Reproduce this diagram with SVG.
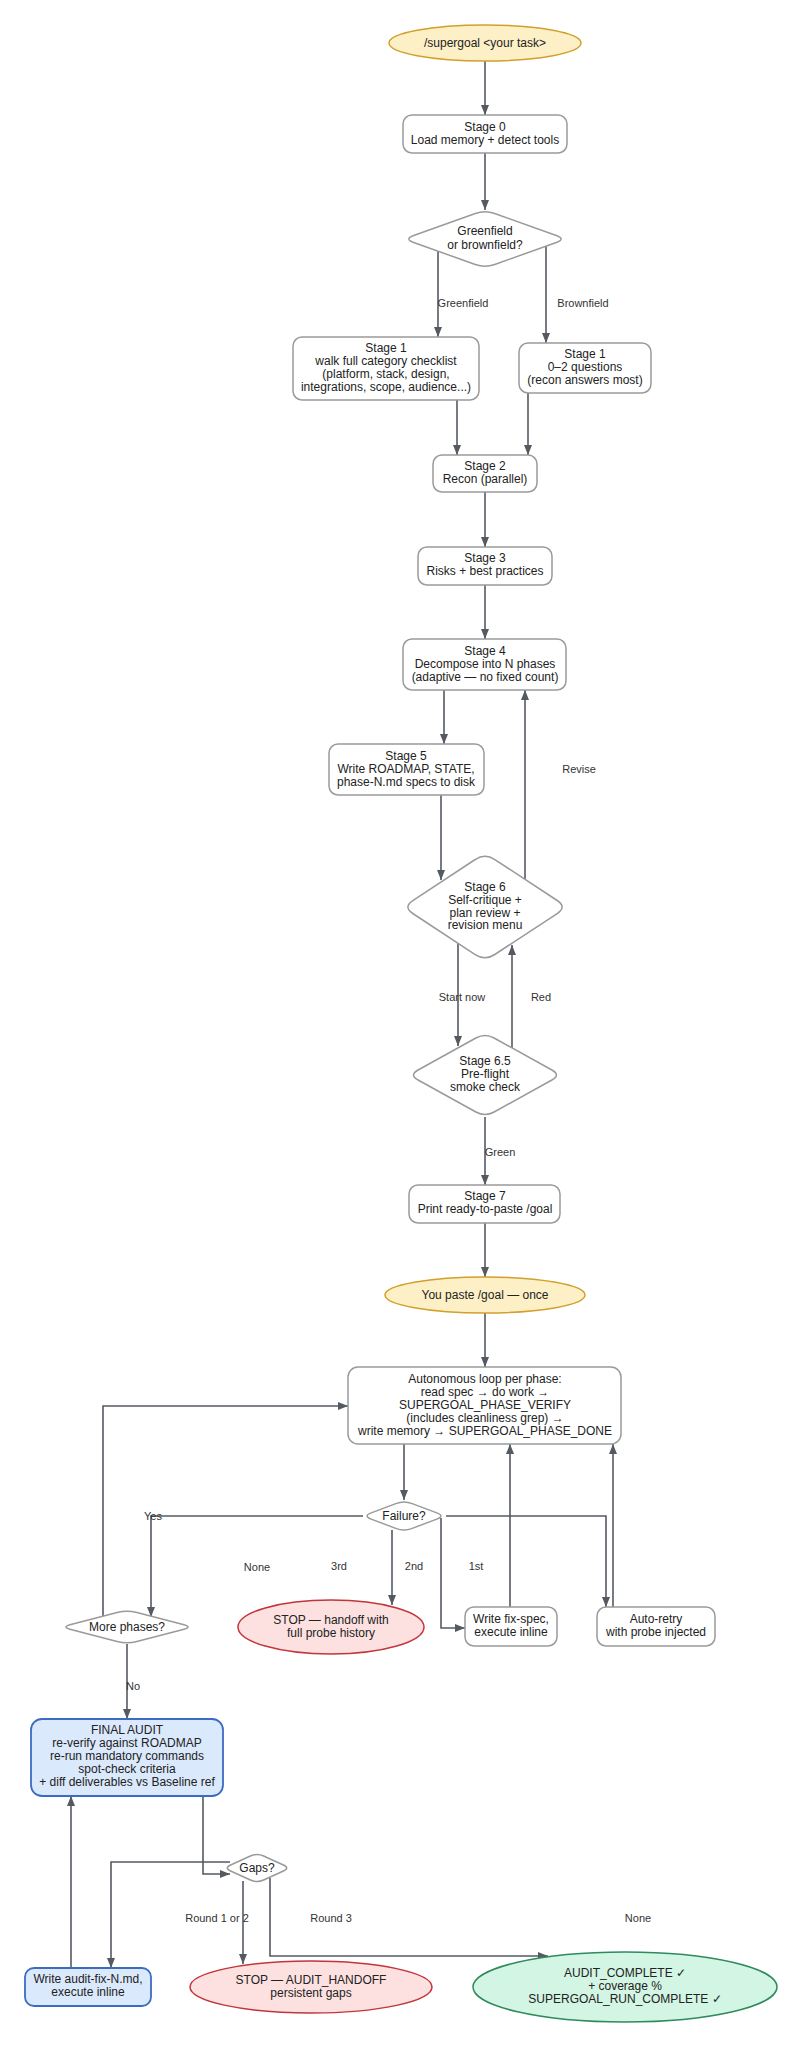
<svg xmlns="http://www.w3.org/2000/svg" width="795" height="2048" viewBox="0 0 795 2048">
<style>
.n{fill:#fff;stroke:#9a9a9a;stroke-width:1.5}
.y{fill:#fdf0c6;stroke:#d2a02a;stroke-width:1.5}
.r{fill:#fde1e1;stroke:#c2353a;stroke-width:1.5}
.g{fill:#d3f5e4;stroke:#2f8a5c;stroke-width:1.5}
.b{fill:#dbe9fc;stroke:#3c6cc2;stroke-width:1.8}
.d{stroke-linejoin:round}
text{font-family:"Liberation Sans",Arial,sans-serif;font-size:12px;fill:#222;text-anchor:middle;dominant-baseline:central}
.l{font-size:11px;fill:#333}
.e path{fill:none;stroke:#555a62;stroke-width:1.6;marker-end:url(#a)}
</style>
<defs>
<marker id="a" markerUnits="userSpaceOnUse" markerWidth="10" markerHeight="10" viewBox="0 0 10 10" refX="10" refY="5" orient="auto">
<path d="M0,1 L10,5 L0,9 z" fill="#555a62"/>
</marker>
</defs>
<rect width="795" height="2048" fill="#fff"/>
<g class="e" id="connectors">
<path d="M485,61 V115"/>
<path d="M485,153 V210"/>
<path d="M438,251 V337"/>
<path d="M546,246 V343"/>
<path d="M457,400 V455"/>
<path d="M528,393 V455"/>
<path d="M485,492 V547"/>
<path d="M485,585 V639"/>
<path d="M444,690 V744"/>
<path d="M441,795 V880"/>
<path d="M525,879 V690"/>
<path d="M458,943 V1046"/>
<path d="M512,1048 V945"/>
<path d="M485,1117 V1185"/>
<path d="M485,1223 V1277"/>
<path d="M485,1313 V1367"/>
<path d="M404,1444 V1500"/>
<path d="M392,1530 V1605"/>
<path d="M441,1518 V1628 H465"/>
<path d="M446,1516 H606 V1607"/>
<path d="M510,1607 V1444"/>
<path d="M613,1607 V1444"/>
<path d="M363,1516 H151 V1617"/>
<path d="M103,1617 V1406 H348"/>
<path d="M127,1644 V1719"/>
<path d="M203,1796 V1874 H230"/>
<path d="M230,1862 H111 V1968"/>
<path d="M243,1881 V1964"/>
<path d="M270,1878 V1956 H548"/>
<path d="M71,1968 V1796"/>
<text class="l" x="463" y="303">Greenfield</text>
<text class="l" x="583" y="303">Brownfield</text>
<text class="l" x="579" y="769">Revise</text>
<text class="l" x="462" y="997">Start now</text>
<text class="l" x="541" y="997">Red</text>
<text class="l" x="500" y="1152">Green</text>
<text class="l" x="153" y="1516">Yes</text>
<text class="l" x="257" y="1567">None</text>
<text class="l" x="339" y="1566">3rd</text>
<text class="l" x="414" y="1566">2nd</text>
<text class="l" x="476" y="1566">1st</text>
<text class="l" x="133" y="1686">No</text>
<text class="l" x="217" y="1918">Round 1 or 2</text>
<text class="l" x="331" y="1918">Round 3</text>
<text class="l" x="638" y="1918">None</text>
</g>
<g id="start"><ellipse class="y" cx="485" cy="43" rx="96" ry="18"/><text x="485" y="43">/supergoal &lt;your task&gt;</text></g>
<g id="stage0"><rect class="n" x="403" y="115" width="164" height="38" rx="9"/><text x="485" y="127">Stage 0</text><text x="485" y="140">Load memory + detect tools</text></g>
<g id="field"><path class="n d" d="M475.3,213.5 Q485,210 494.7,213.5 L556.3,235.5 Q566,239 556.3,242.5 L494.7,264.5 Q485,268 475.3,264.5 L413.7,242.5 Q404,239 413.7,235.5 Z"/><text x="485" y="231">Greenfield</text><text x="485" y="245">or brownfield?</text></g>
<g id="stage1g"><rect class="n" x="293" y="337" width="186" height="63" rx="9"/><text x="386" y="348">Stage 1</text><text x="386" y="361">walk full category checklist</text><text x="386" y="374">(platform, stack, design,</text><text x="386" y="387">integrations, scope, audience...)</text></g>
<g id="stage1b"><rect class="n" x="519" y="343" width="132" height="50" rx="9"/><text x="585" y="354">Stage 1</text><text x="585" y="367">0–2 questions</text><text x="585" y="380">(recon answers most)</text></g>
<g id="stage2"><rect class="n" x="433" y="455" width="104" height="37" rx="9"/><text x="485" y="466">Stage 2</text><text x="485" y="479">Recon (parallel)</text></g>
<g id="stage3"><rect class="n" x="418" y="547" width="134" height="38" rx="9"/><text x="485" y="558">Stage 3</text><text x="485" y="571">Risks + best practices</text></g>
<g id="stage4"><rect class="n" x="403" y="639" width="163" height="51" rx="9"/><text x="485" y="651">Stage 4</text><text x="485" y="664">Decompose into N phases</text><text x="485" y="677">(adaptive — no fixed count)</text></g>
<g id="stage5"><rect class="n" x="329" y="744" width="155" height="51" rx="9"/><text x="406" y="756">Stage 5</text><text x="406" y="769">Write ROADMAP, STATE,</text><text x="406" y="782">phase-N.md specs to disk</text></g>
<g id="stage6"><path class="n d" d="M475.2,859.5 Q485,853 494.8,859.5 L557.2,900.5 Q567,907 557.2,913.5 L494.8,954.5 Q485,961 475.2,954.5 L412.8,913.5 Q403,907 412.8,900.5 Z"/><text x="485" y="887">Stage 6</text><text x="485" y="900">Self-critique +</text><text x="485" y="913">plan review +</text><text x="485" y="925">revision menu</text></g>
<g id="stage65"><path class="n d" d="M475.9,1038 Q485,1033 494.1,1038 L551.9,1070 Q561,1075 551.9,1080 L494.1,1112 Q485,1117 475.9,1112 L418.1,1080 Q409,1075 418.1,1070 Z"/><text x="485" y="1061">Stage 6.5</text><text x="485" y="1074">Pre-flight</text><text x="485" y="1087">smoke check</text></g>
<g id="stage7"><rect class="n" x="409" y="1185" width="151" height="38" rx="9"/><text x="485" y="1196">Stage 7</text><text x="485" y="1209">Print ready-to-paste /goal</text></g>
<g id="paste"><ellipse class="y" cx="485" cy="1295" rx="100" ry="18"/><text x="485" y="1295">You paste /goal — once</text></g>
<g id="loop"><rect class="n" x="348" y="1367" width="273" height="77" rx="10"/><text x="485" y="1379">Autonomous loop per phase:</text><text x="485" y="1392">read spec → do work →</text><text x="485" y="1405">SUPERGOAL_PHASE_VERIFY</text><text x="485" y="1418">(includes cleanliness grep) →</text><text x="485" y="1431">write memory → SUPERGOAL_PHASE_DONE</text></g>
<g id="failure"><path class="n d" d="M395.8,1503.6 Q404,1500.5 412.2,1503.6 L436.8,1512.9 Q445,1516 436.8,1519.1 L412.2,1528.4 Q404,1531.5 395.8,1528.4 L371.2,1519.1 Q363,1516 371.2,1512.9 Z"/><text x="404" y="1516">Failure?</text></g>
<g id="more"><path class="n d" d="M117.1,1612.55 Q127,1610 136.9,1612.55 L183.1,1624.45 Q193,1627 183.1,1629.55 L136.9,1641.45 Q127,1644 117.1,1641.45 L70.9,1629.55 Q61,1627 70.9,1624.45 Z"/><text x="127" y="1627">More phases?</text></g>
<g id="stop1"><ellipse class="r" cx="331" cy="1627" rx="93" ry="27"/><text x="331" y="1620">STOP — handoff with</text><text x="331" y="1633">full probe history</text></g>
<g id="fixspec"><rect class="n" x="465" y="1607" width="92" height="39" rx="9"/><text x="511" y="1619">Write fix-spec,</text><text x="511" y="1632">execute inline</text></g>
<g id="retry"><rect class="n" x="597" y="1607" width="118" height="39" rx="9"/><text x="656" y="1619">Auto-retry</text><text x="656" y="1632">with probe injected</text></g>
<g id="audit"><rect class="b" x="31" y="1719" width="192" height="77" rx="11"/><text x="127" y="1730">FINAL AUDIT</text><text x="127" y="1743">re-verify against ROADMAP</text><text x="127" y="1756">re-run mandatory commands</text><text x="127" y="1769">spot-check criteria</text><text x="127" y="1782">+ diff deliverables vs Baseline ref</text></g>
<g id="gaps"><path class="n d" d="M250.4,1856 Q257,1853 263.6,1856 L283.4,1865 Q290,1868 283.4,1871 L263.6,1880 Q257,1883 250.4,1880 L230.6,1871 Q224,1868 230.6,1865 Z"/><text x="257" y="1868">Gaps?</text></g>
<g id="auditfix"><rect class="b" x="25" y="1968" width="126" height="38" rx="9"/><text x="88" y="1979">Write audit-fix-N.md,</text><text x="88" y="1992">execute inline</text></g>
<g id="stop2"><ellipse class="r" cx="311" cy="1987" rx="121" ry="26"/><text x="311" y="1980">STOP — AUDIT_HANDOFF</text><text x="311" y="1993">persistent gaps</text></g>
<g id="complete"><ellipse class="g" cx="625" cy="1987" rx="152" ry="35"/><text x="625" y="1973">AUDIT_COMPLETE ✓</text><text x="625" y="1986">+ coverage %</text><text x="625" y="1999">SUPERGOAL_RUN_COMPLETE ✓</text></g>
</svg>
